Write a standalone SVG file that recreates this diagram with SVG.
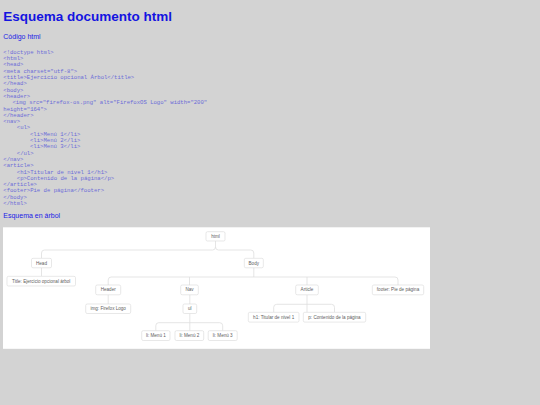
<svg xmlns="http://www.w3.org/2000/svg" width="540" height="405" viewBox="0 0 540 405">
<style>
.h1{font-family:"Liberation Sans",Arial,sans-serif;font-size:13.5px;font-weight:bold;fill:#1414e0}
.h2{font-family:"Liberation Sans",Arial,sans-serif;font-size:7px;fill:#1a1ae6}
.code{font-family:"Liberation Mono","Courier New",monospace;font-size:5.6px;fill:#6c6cd8}
.node rect{fill:#fff;stroke:#d9d9d9;stroke-width:0.6}
.node text{font-family:"Liberation Sans",Arial,sans-serif;font-size:4.6px;fill:#5e5e5e;text-anchor:middle;dominant-baseline:central}
#connectors path{fill:none;stroke:#dedede;stroke-width:0.8}
</style>
<rect width="540" height="405" fill="#d3d3d3"/>
<text class="h1" x="3.3" y="21">Esquema documento html</text>
<text class="h2" x="3.3" y="38.7">Código html</text>
<g class="code">
<text x="3.3" y="53.8">&lt;!doctype html&gt;</text>
<text x="3.3" y="60.1">&lt;html&gt;</text>
<text x="3.3" y="66.4">&lt;head&gt;</text>
<text x="3.3" y="72.7">&lt;meta charset="utf-8"&gt;</text>
<text x="3.3" y="79">&lt;title&gt;Ejercicio opcional Árbol&lt;/title&gt;</text>
<text x="3.3" y="85.3">&lt;/head&gt;</text>
<text x="3.3" y="91.6">&lt;body&gt;</text>
<text x="3.3" y="97.9">&lt;header&gt;</text>
<text x="12.5" y="104.2">&lt;img src="firefox-os.png" alt="FirefoxOS Logo" width="200"</text>
<text x="3.3" y="110.5">height="164"&gt;</text>
<text x="3.3" y="116.8">&lt;/header&gt;</text>
<text x="3.3" y="123.1">&lt;nav&gt;</text>
<text x="16.8" y="129.4">&lt;ul&gt;</text>
<text x="30" y="135.7">&lt;li&gt;Menú 1&lt;/li&gt;</text>
<text x="30" y="142">&lt;li&gt;Menú 2&lt;/li&gt;</text>
<text x="30" y="148.3">&lt;li&gt;Menú 3&lt;/li&gt;</text>
<text x="16.8" y="154.6">&lt;/ul&gt;</text>
<text x="3.3" y="160.9">&lt;/nav&gt;</text>
<text x="3.3" y="167.2">&lt;article&gt;</text>
<text x="16.8" y="173.5">&lt;h1&gt;Titular de nivel 1&lt;/h1&gt;</text>
<text x="16.8" y="179.8">&lt;p&gt;Contenido de la página&lt;/p&gt;</text>
<text x="3.3" y="186.1">&lt;/article&gt;</text>
<text x="3.3" y="192.4">&lt;footer&gt;Pie de página&lt;/footer&gt;</text>
<text x="3.3" y="198.7">&lt;/body&gt;</text>
<text x="3.3" y="205">&lt;/html&gt;</text>
</g>
<text class="h2" x="3.3" y="218.3">Esquema en árbol</text>
<rect x="3" y="227.3" width="427" height="121.5" fill="#fff"/>
<g id="connectors">
<path d="M215.5 241 V247 Q215.5 250 212.5 250 H44.5 Q41.5 250 41.5 253 V258.3"/>
<path d="M215.5 247 Q215.5 250 218.5 250 H250.8 Q253.8 250 253.8 253 V258.3"/>
<path d="M41.5 267.8 V276.3"/>
<path d="M253.8 267.8 V277 M253.8 277 H111.2 Q108.2 277 108.2 280 V285"/>
<path d="M253.8 277 H395 Q398 277 398 280 V285"/>
<path d="M189.5 277 V285 M307 277 V285"/>
<path d="M108.2 294.8 V304"/>
<path d="M189.8 294.8 V304"/>
<path d="M189.8 313.5 V330.7 M189.8 322.7 H158.8 Q155.8 322.7 155.8 325.7 V330.7 M189.8 322.7 H219.7 Q222.7 322.7 222.7 325.7 V330.7"/>
<path d="M307 294.8 V312.3 M307 304.3 H276.7 Q273.7 304.3 273.7 307.3 V312.3 M307 304.3 H331.5 Q334.5 304.3 334.5 307.3 V312.3"/>
</g>
<g id="node-html" class="node"><rect x="206" y="231.7" width="19" height="9.3" rx="1.5"/><text x="215.5" y="236.4">html</text></g>
<g id="node-head" class="node"><rect x="31.5" y="258.3" width="20" height="9.5" rx="1.5"/><text x="41.5" y="263">Head</text></g>
<g id="node-body" class="node"><rect x="244.3" y="258.3" width="19" height="9.5" rx="1.5"/><text x="253.8" y="263">Body</text></g>
<g id="node-title" class="node"><rect x="7" y="276.3" width="68.5" height="9.7" rx="1.5"/><text x="41.25" y="281.2">Title: Ejercicio opcional árbol</text></g>
<g id="node-header" class="node"><rect x="95.7" y="285" width="25" height="9.8" rx="1.5"/><text x="108.2" y="289.9">Header</text></g>
<g id="node-nav" class="node"><rect x="180.7" y="285" width="17.6" height="9.8" rx="1.5"/><text x="189.5" y="289.9">Nav</text></g>
<g id="node-article" class="node"><rect x="295.7" y="285" width="22.6" height="9.8" rx="1.5"/><text x="307" y="289.9">Article</text></g>
<g id="node-footer" class="node"><rect x="372.3" y="285" width="51.4" height="9.8" rx="1.5"/><text x="398" y="289.9">footer: Pie de página</text></g>
<g id="node-img" class="node"><rect x="85.7" y="304" width="45" height="9.5" rx="1.5"/><text x="108.2" y="308.75">img: Firefox Logo</text></g>
<g id="node-ul" class="node"><rect x="183" y="304" width="13.7" height="9.5" rx="1.5"/><text x="189.85" y="308.75">ul</text></g>
<g id="node-h1" class="node"><rect x="248.3" y="312.3" width="50.7" height="9.8" rx="1.5"/><text x="273.65" y="317.2">h1: Titular de nivel 1</text></g>
<g id="node-p" class="node"><rect x="303.3" y="312.3" width="62.4" height="9.8" rx="1.5"/><text x="334.5" y="317.2">p: Contenido de la página</text></g>
<g id="node-li1" class="node"><rect x="141.7" y="330.7" width="28.3" height="9.8" rx="1.5"/><text x="155.85" y="335.6">li: Menú 1</text></g>
<g id="node-li2" class="node"><rect x="175" y="330.7" width="28.7" height="9.8" rx="1.5"/><text x="189.35" y="335.6">li: Menú 2</text></g>
<g id="node-li3" class="node"><rect x="208.2" y="330.7" width="29" height="9.8" rx="1.5"/><text x="222.7" y="335.6">li: Menú 3</text></g>
</svg>
